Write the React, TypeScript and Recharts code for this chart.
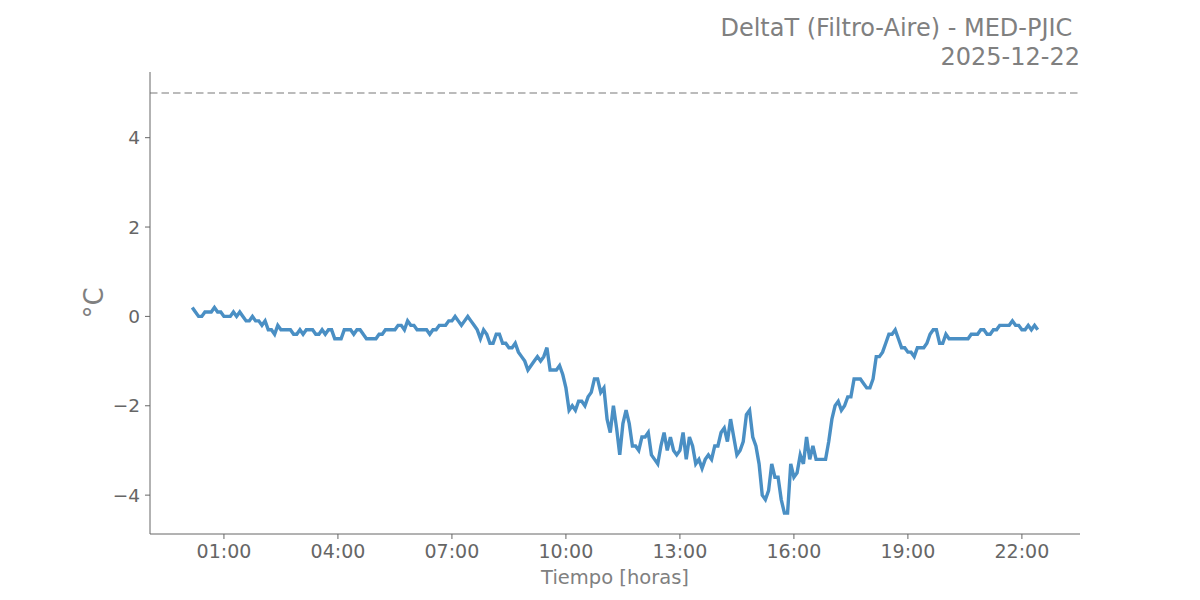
import { LineChart, Line, XAxis, YAxis, ReferenceLine } from "recharts";

// DeltaT readings every 5 min, starting 00:10
const START_MIN = 10;
const STEP_MIN = 5;
const deltaT = [
  0.2, 0.1, 0, 0, 0.1, 0.1, 0.1, 0.2, 0.1, 0.1,
  0, 0, 0, 0.1, 0, 0.1, 0, -0.1, -0.1, 0,
  -0.1, -0.1, -0.2, -0.1, -0.3, -0.3, -0.4, -0.2, -0.3, -0.3,
  -0.3, -0.3, -0.4, -0.4, -0.3, -0.4, -0.3, -0.3, -0.3, -0.4,
  -0.4, -0.3, -0.4, -0.3, -0.3, -0.5, -0.5, -0.5, -0.3, -0.3,
  -0.3, -0.4, -0.3, -0.3, -0.4, -0.5, -0.5, -0.5, -0.5, -0.4,
  -0.4, -0.3, -0.3, -0.3, -0.3, -0.2, -0.2, -0.3, -0.1, -0.2,
  -0.2, -0.3, -0.3, -0.3, -0.3, -0.4, -0.3, -0.3, -0.2, -0.2,
  -0.2, -0.1, -0.1, 0, -0.1, -0.2, -0.1, 0, -0.1, -0.2,
  -0.3, -0.5, -0.3, -0.4, -0.6, -0.6, -0.4, -0.4, -0.6, -0.6,
  -0.7, -0.7, -0.6, -0.8, -0.9, -1.0, -1.2, -1.1, -1.0, -0.9,
  -1.0, -0.9, -0.7, -1.2, -1.2, -1.2, -1.1, -1.3, -1.6, -2.1,
  -2.0, -2.1, -1.9, -1.9, -2.0, -1.8, -1.7, -1.4, -1.4, -1.7,
  -1.6, -2.3, -2.6, -2.0, -2.5, -3.1, -2.4, -2.1, -2.4, -2.9,
  -2.9, -3.0, -2.7, -2.7, -2.6, -3.1, -3.2, -3.3, -2.9, -2.6,
  -3.0, -2.7, -3.0, -3.1, -3.0, -2.6, -3.2, -2.7, -2.9, -3.3,
  -3.2, -3.4, -3.2, -3.1, -3.2, -2.9, -2.9, -2.6, -2.5, -2.8,
  -2.3, -2.7, -3.1, -3.0, -2.8, -2.2, -2.1, -2.7, -2.9, -3.3,
  -4.0, -4.1, -3.9, -3.3, -3.6, -3.6, -4.1, -4.4, -4.4, -3.3,
  -3.6, -3.5, -3.1, -3.3, -2.7, -3.2, -2.9, -3.2, -3.2, -3.2,
  -3.2, -2.8, -2.3, -2.0, -1.9, -2.1, -2.0, -1.8, -1.8, -1.4,
  -1.4, -1.4, -1.5, -1.6, -1.6, -1.4, -0.9, -0.9, -0.8, -0.6,
  -0.4, -0.4, -0.3, -0.5, -0.7, -0.7, -0.8, -0.8, -0.9, -0.7,
  -0.7, -0.7, -0.6, -0.4, -0.3, -0.3, -0.6, -0.6, -0.4, -0.5,
  -0.5, -0.5, -0.5, -0.5, -0.5, -0.5, -0.4, -0.4, -0.4, -0.3,
  -0.3, -0.4, -0.4, -0.3, -0.3, -0.2, -0.2, -0.2, -0.2, -0.1,
  -0.2, -0.2, -0.3, -0.3, -0.2, -0.3, -0.2, -0.3,
];

const xTicks = [60, 240, 420, 600, 780, 960, 1140, 1320];
const yTicks = [-4, -2, 0, 2, 4];
const LIMIT = 5;

const FONT = "'DejaVu Sans', sans-serif";

const fmtTime = (m: number) =>
  `${String(Math.floor(m / 60)).padStart(2, "0")}:${String(m % 60).padStart(2, "0")}`;
const fmtY = (v: number) => (v < 0 ? `\u2212${Math.abs(v)}` : `${v}`);

export default function App() {
  const data = deltaT.map((v, i) => ({ t: START_MIN + i * STEP_MIN, v }));

  return (
    <div
      style={{
        position: "absolute",
        left: 0,
        top: 0,
        width: 1200,
        height: 600,
        background: "#fff",
        fontFamily: FONT,
      }}
    >
      <div
        style={{
          position: "absolute",
          right: 120,
          top: 14,
          textAlign: "right",
          color: "#808080",
          fontSize: 24,
          lineHeight: "28.5px",
          whiteSpace: "pre",
        }}
      >
        {"DeltaT (Filtro-Aire) - MED-PJIC \n2025-12-22"}
      </div>
      <div
        style={{
          position: "absolute",
          left: 94,
          top: 303,
          transform: "translate(-50%, -50%) rotate(-90deg)",
          color: "#808080",
          fontSize: 26,
          whiteSpace: "nowrap",
        }}
      >
        °C
      </div>
      <div
        style={{
          position: "absolute",
          left: 615,
          top: 577,
          transform: "translate(-50%, -50%)",
          color: "#808080",
          fontSize: 19.5,
          whiteSpace: "nowrap",
        }}
      >
        Tiempo [horas]
      </div>
      <LineChart
        width={1200}
        height={600}
        data={data}
        margin={{ top: 72, right: 120, bottom: 36, left: 90 }}
      >
        <XAxis
          dataKey="t"
          type="number"
          domain={[-56.75, 1411.75]}
          ticks={xTicks}
          tickFormatter={fmtTime}
          allowDataOverflow
          height={30}
          stroke="#666"
          tickSize={5}
          tickMargin={6}
          tick={{ fill: "#666", fontSize: 19, fontFamily: FONT }}
        />
        <YAxis
          type="number"
          domain={[-4.87, 5.47]}
          ticks={yTicks}
          tickFormatter={fmtY}
          allowDataOverflow
          width={60}
          stroke="#666"
          tickSize={5}
          tickMargin={5}
          tick={{ fill: "#666", fontSize: 18.5, fontFamily: FONT }}
        />
        <ReferenceLine
          y={LIMIT}
          stroke="#bbbbbb"
          strokeWidth={2}
          strokeDasharray="7.5 4"
          ifOverflow="extendDomain"
        />
        <Line
          type="linear"
          dataKey="v"
          stroke="#4a8fc4"
          strokeWidth={3.4}
          dot={false}
          isAnimationActive={false}
        />
      </LineChart>
    </div>
  );
}
